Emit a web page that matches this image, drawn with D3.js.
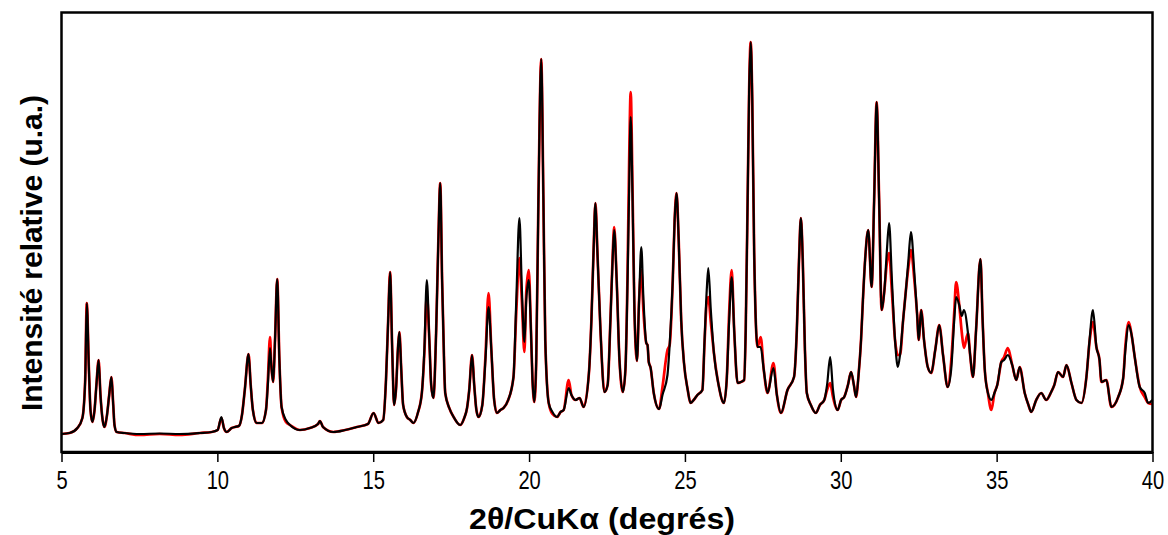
<!DOCTYPE html>
<html>
<head>
<meta charset="utf-8">
<script src="https://cdn.jsdelivr.net/npm/d3@7"></script>
<style>
  html, body { margin: 0; padding: 0; background: #fff; }
  svg { display: block; }
</style>
</head>
<body>
<svg id="chart" width="1168" height="535"></svg>
<script>
// 2θ (degrees) sample positions
const twoTheta = [
  5.00, 5.26, 5.51, 5.67, 5.76, 5.81, 5.88, 5.93, 5.99, 6.06, 6.12, 6.19, 6.25, 6.32, 6.38, 6.46, 6.53, 6.60, 6.66, 6.70,
  6.77, 7.02, 7.51, 8.15, 8.79, 9.44, 9.82, 10.01, 10.13, 10.21, 10.30, 10.46, 10.56, 10.69, 10.79, 10.88, 11.00, 11.07, 11.14, 11.26,
  11.43, 11.56, 11.62, 11.69, 11.73, 11.79, 11.85, 11.92, 11.99, 12.06, 12.20, 12.33, 12.65, 12.97, 13.23, 13.29, 13.39, 13.72, 14.10, 14.47,
  14.83, 15.01, 15.17, 15.32, 15.41, 15.48, 15.54, 15.61, 15.67, 15.73, 15.80, 15.84, 15.90, 15.96, 16.08, 16.19, 16.29, 16.44, 16.56, 16.64,
  16.72, 16.80, 16.86, 16.93, 17.02, 17.09, 17.15, 17.21, 17.28, 17.31, 17.44, 17.58, 17.79, 17.92, 18.01, 18.08, 18.17, 18.24, 18.31, 18.38,
  18.50, 18.60, 18.70, 18.79, 18.88, 18.97, 19.08, 19.18, 19.33, 19.50, 19.59, 19.69, 19.77, 19.85, 19.91, 19.99, 20.06, 20.11, 20.17, 20.23,
  20.30, 20.39, 20.46, 20.52, 20.63, 20.75, 20.90, 21.01, 21.11, 21.27, 21.36, 21.49, 21.62, 21.75, 21.92, 22.00, 22.07, 22.13, 22.19, 22.29,
  22.42, 22.52, 22.61, 22.68, 22.73, 22.81, 22.90, 23.01, 23.09, 23.16, 23.21, 23.26, 23.32, 23.38, 23.46, 23.53, 23.60, 23.67, 23.76, 23.80,
  23.84, 23.90, 24.00, 24.17, 24.28, 24.44, 24.51, 24.61, 24.67, 24.73, 24.80, 24.88, 24.97, 25.09, 25.18, 25.28, 25.40, 25.56, 25.63, 25.70,
  25.75, 25.83, 25.93, 26.08, 26.25, 26.34, 26.42, 26.50, 26.58, 26.69, 26.79, 26.90, 26.95, 27.02, 27.06, 27.11, 27.16, 27.22, 27.33, 27.43,
  27.53, 27.65, 27.84, 27.95, 28.08, 28.29, 28.50, 28.59, 28.66, 28.72, 28.78, 28.85, 28.91, 29.04, 29.20, 29.33, 29.47, 29.56, 29.66, 29.75,
  29.90, 30.01, 30.11, 30.23, 30.33, 30.42, 30.49, 30.57, 30.65, 30.71, 30.78, 30.88, 30.99, 31.07, 31.15, 31.23, 31.31, 31.40, 31.48, 31.55,
  31.64, 31.74, 31.83, 31.90, 32.00, 32.09, 32.17, 32.25, 32.36, 32.45, 32.50, 32.58, 32.67, 32.79, 32.90, 33.03, 33.16, 33.28, 33.43, 33.54,
  33.64, 33.70, 33.80, 33.88, 33.95, 34.08, 34.15, 34.24, 34.34, 34.48, 34.55, 34.62, 34.72, 34.83, 34.93, 35.02, 35.15, 35.24, 35.36, 35.50,
  35.63, 35.74, 35.90, 36.02, 36.11, 36.27, 36.43, 36.59, 36.75, 36.85, 36.97, 37.13, 37.24, 37.40, 37.56, 37.72, 37.88, 37.98, 38.09, 38.20,
  38.30, 38.36, 38.52, 38.68, 38.90, 39.06, 39.13, 39.24, 39.33, 39.43, 39.59, 39.75, 39.86, 40.00
];

// Intensity (arbitrary units) – black pattern
const intensityBlack = [
  18, 19, 24, 34, 72, 149, 82, 42, 30, 42, 67, 92, 57, 32, 25, 37, 57, 75, 47, 27,
  20, 19, 18, 18.5, 18, 19, 20, 22, 35, 24, 20, 24, 25, 26, 37, 62, 98, 67, 42, 29,
  29, 42, 67, 104, 87, 70, 112, 173, 92, 45, 32, 27, 22, 24, 28, 31, 25, 20, 22, 25,
  28, 39, 29, 32, 72, 132, 180, 102, 47, 62, 107, 120, 82, 47, 35, 32, 29, 40, 59, 102,
  172, 112, 67, 54, 122, 212, 269, 172, 82, 59, 44, 35, 27, 34, 44, 62, 97, 67, 42, 35,
  47, 92, 145, 102, 52, 39, 42, 44, 52, 75, 152, 234, 162, 110, 152, 172, 122, 72, 50, 92,
  252, 393, 252, 112, 49, 40, 35, 40, 42, 64, 57, 52, 54, 45, 79, 132, 202, 249, 202, 122,
  60, 67, 132, 192, 222, 172, 92, 60, 82, 172, 262, 335, 252, 142, 91, 152, 205, 152, 109, 107,
  90, 84, 59, 43, 57, 77, 107, 172, 232, 259, 212, 132, 89, 62, 49, 52, 57, 62, 112, 162,
  184, 142, 99, 67, 49, 72, 132, 175, 122, 69, 70, 72, 122, 272, 362, 410, 352, 202, 105, 105,
  82, 59, 84, 57, 39, 62, 75, 122, 192, 234, 192, 102, 59, 47, 39, 47, 52, 67, 95, 62,
  42, 52, 55, 67, 80, 67, 55, 77, 112, 152, 192, 222, 165, 252, 350, 252, 142, 162, 202, 229,
  172, 112, 85, 97, 132, 162, 192, 220, 179, 137, 112, 142, 112, 85, 79, 102, 127, 97, 65, 82,
  132, 155, 147, 136, 142, 119, 97, 75, 122, 193, 132, 82, 59, 52, 59, 67, 90, 92, 97, 87,
  72, 85, 59, 47, 40, 52, 59, 52, 60, 67, 80, 75, 87, 69, 52, 49, 75, 112, 142, 105,
  92, 70, 72, 45, 55, 74, 102, 127, 117, 95, 65, 59, 49, 52
];

// Intensity (arbitrary units) – red pattern
const intensityRed = [
  18, 19, 24, 34, 72, 149, 82, 42, 30, 42, 67, 92, 57, 32, 25, 37, 57, 75, 47, 27,
  20, 19, 17, 18, 17, 19, 20, 22, 34, 24, 20, 24, 25, 26, 37, 62, 98, 67, 42, 29,
  29, 42, 72, 115, 87, 70, 112, 173, 92, 45, 30, 27, 22, 24, 28, 31, 25, 20, 22, 25,
  28, 39, 29, 32, 72, 132, 180, 102, 47, 62, 107, 120, 82, 47, 35, 32, 29, 40, 59, 98,
  157, 112, 67, 54, 122, 212, 269, 172, 82, 59, 44, 35, 27, 34, 44, 62, 97, 67, 42, 35,
  47, 95, 159, 102, 52, 39, 42, 44, 52, 75, 140, 194, 150, 100, 160, 182, 122, 72, 50, 92,
  252, 393, 252, 112, 49, 38, 35, 40, 42, 72, 57, 52, 54, 45, 79, 132, 202, 249, 202, 122,
  60, 67, 132, 195, 225, 172, 92, 60, 82, 180, 290, 360, 260, 142, 91, 152, 182, 140, 109, 107,
  90, 84, 59, 43, 65, 102, 107, 172, 232, 259, 212, 132, 89, 62, 49, 52, 57, 62, 110, 150,
  155, 130, 99, 67, 49, 72, 140, 182, 122, 69, 70, 72, 122, 272, 362, 410, 352, 202, 105, 115,
  82, 59, 89, 57, 39, 62, 75, 122, 192, 234, 192, 102, 59, 47, 39, 47, 52, 62, 69, 55,
  42, 52, 55, 67, 80, 67, 55, 77, 112, 152, 192, 222, 165, 252, 350, 252, 142, 162, 190, 199,
  160, 112, 97, 97, 132, 162, 185, 202, 172, 137, 112, 142, 112, 85, 79, 102, 127, 97, 65, 90,
  140, 170, 147, 120, 104, 119, 97, 75, 122, 193, 132, 82, 59, 42, 59, 67, 90, 95, 104, 87,
  72, 85, 59, 47, 40, 52, 59, 52, 60, 67, 80, 75, 87, 69, 52, 49, 75, 110, 130, 105,
  92, 70, 72, 45, 55, 74, 106, 130, 117, 95, 65, 55, 49, 48
];

const xTicks = [5, 10, 15, 20, 25, 30, 35, 40];
const xTitle = "2\u03B8/CuK\u03B1 (degr\u00E9s)";
const yTitle = "Intensit\u00E9 relative (u.a.)";

(function () {
  const svg = d3.select("#chart");
  const pL = 61.5, pR = 1152.5, pT = 12.5, pB = 452;

  const x = d3.scaleLinear().domain([5, 40]).range([pL, pR]);
  const y = d3.scaleLinear().domain([0, 439.5]).range([pB, pT]);

  const black = twoTheta.map((t, i) => [t, intensityBlack[i]]);
  const red = twoTheta.map((t, i) => [t, intensityRed[i]]);

  const line = d3.line()
    .x(d => x(d[0]))
    .y(d => y(d[1]))
    .curve(d3.curveMonotoneX);

  svg.append("path").datum(red)
    .attr("d", line).attr("fill", "none")
    .attr("stroke", "#ff0000").attr("stroke-width", 2.7)
    .attr("stroke-linejoin", "round");

  svg.append("path").datum(black)
    .attr("d", line).attr("fill", "none")
    .attr("stroke", "#000000").attr("stroke-width", 2.2)
    .attr("stroke-linejoin", "round");

  // frame
  svg.append("rect")
    .attr("x", pL).attr("y", pT)
    .attr("width", pR - pL).attr("height", pB - pT)
    .attr("fill", "none").attr("stroke", "#000").attr("stroke-width", 2.5);

  // bottom axis
  const xAxis = d3.axisBottom(x).tickValues(xTicks).tickSize(10).tickSizeOuter(0).tickFormat(d3.format("d"));
  const gx = svg.append("g").attr("transform", `translate(0,${pB})`).call(xAxis);
  gx.select(".domain").attr("stroke", "#000").attr("stroke-width", 3);
  gx.selectAll(".tick line").attr("stroke", "#000").attr("stroke-width", 1.5);
  gx.selectAll(".tick text")
    .attr("y", 37)
    .attr("dy", 0)
    .attr("fill", "#000")
    .attr("textLength", d => String(d).length * 11.2)
    .attr("lengthAdjust", "spacingAndGlyphs")
    .style("font-family", "'Liberation Sans', Arial, sans-serif")
    .style("font-size", "25px");

  svg.append("text")
    .attr("x", 602).attr("y", 529)
    .attr("text-anchor", "middle")
    .attr("textLength", 266)
    .attr("lengthAdjust", "spacingAndGlyphs")
    .style("font-family", "'Liberation Sans', Arial, sans-serif")
    .style("font-weight", "bold").style("font-size", "29px")
    .text(xTitle);

  svg.append("text")
    .attr("transform", `translate(42,253) rotate(-90)`)
    .attr("text-anchor", "middle")
    .attr("textLength", 316)
    .attr("lengthAdjust", "spacingAndGlyphs")
    .style("font-family", "'Liberation Sans', Arial, sans-serif")
    .style("font-weight", "bold").style("font-size", "29px")
    .text(yTitle);
})();
</script>
</body>
</html>
